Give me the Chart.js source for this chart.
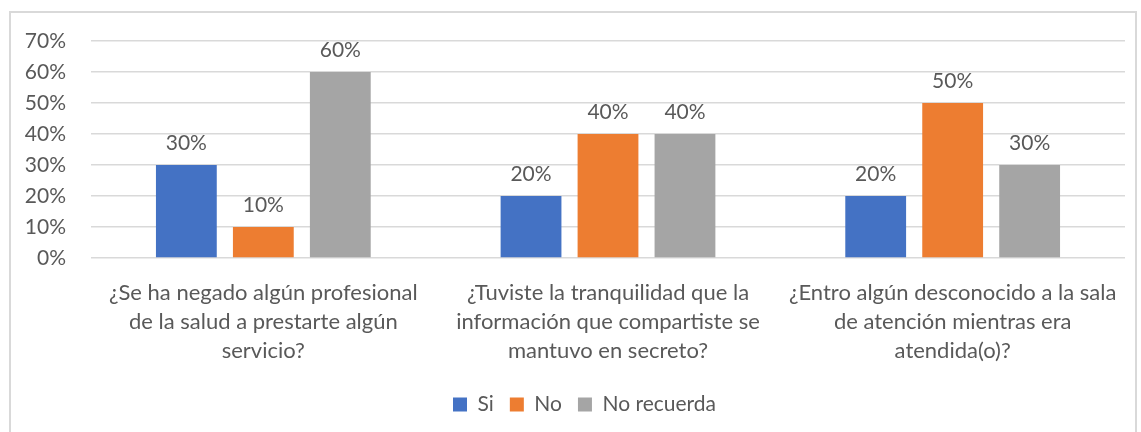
<!DOCTYPE html>
<html lang="es">
<head>
<meta charset="UTF-8">
<title>Encuesta</title>
<script src="https://cdn.jsdelivr.net/npm/chart.js"></script>
<style>
  html, body { margin: 0; padding: 0; background: #ffffff; }
  #wrap { position: relative; width: 1141px; height: 432px; overflow: hidden; }
  #frame { position: absolute; left: 9px; top: 11px; width: 1128px; height: 430px; border: 2px solid #d9d9d9; box-sizing: border-box; }
  canvas { position: absolute; left: 0; top: 0; }
</style>
</head>
<body>
<div id="wrap">
  <div id="frame"></div>
  <canvas id="chart" width="1141" height="432"></canvas>
</div>
<script>
// categories (questions)
const categories = [
  ['¿Se ha negado algún profesional', 'de la salud a prestarte algún', 'servicio?'],
  ['¿Tuviste la tranquilidad que la', 'información que compartiste se', 'mantuvo en secreto?'],
  ['¿Entro algún desconocido a la sala', 'de atención mientras era', 'atendida(o)?']
];

// series values (%)
const siValues = [30, 20, 20];
const noValues = [10, 40, 50];
const noRecuerdaValues = [60, 40, 30];

// y axis ticks
const yMax = 70;
const yStep = 10;

const textColor = '#595959';
const fontFamily = 'Lato, "Open Sans", sans-serif';

// draw the value labels above each bar
const barLabels = {
  id: 'barLabels',
  afterDatasetsDraw(chart) {
    const ctx = chart.ctx;
    ctx.save();
    ctx.font = '21px ' + fontFamily;
    ctx.fillStyle = textColor;
    ctx.textAlign = 'center';
    ctx.textBaseline = 'alphabetic';
    chart.data.datasets.forEach((ds, i) => {
      const meta = chart.getDatasetMeta(i);
      meta.data.forEach((bar, j) => {
        ctx.fillText(ds.data[j] + '%', bar.x, bar.y - 15);
      });
    });
    ctx.restore();
  }
};

// legend sits a bit right of the canvas centre in the original
const legendShift = {
  id: 'legendShift',
  afterLayout(chart) {
    chart.legend.left += 22;
    chart.legend.right += 22;
  }
};

const ctx = document.getElementById('chart').getContext('2d');
new Chart(ctx, {
  type: 'bar',
  data: {
    labels: categories,
    datasets: [
      { label: 'Si', data: siValues, backgroundColor: '#4472c4' },
      { label: 'No', data: noValues, backgroundColor: '#ed7d31' },
      { label: 'No recuerda', data: noRecuerdaValues, backgroundColor: '#a5a5a5' }
    ]
  },
  options: {
    responsive: false,
    animation: false,
    categoryPercentage: 0.67,
    barPercentage: 0.79,
    layout: { padding: { top: 41, right: 16, left: 0, bottom: 7 } },
    scales: {
      x: {
        grid: { display: false, drawTicks: false },
        border: { display: false },
        ticks: {
          color: textColor,
          font: { family: fontFamily, size: 22, lineHeight: 1.3 },
          padding: 21,
          maxRotation: 0,
          autoSkip: false
        },
        afterFit(scale) { scale.height = 120; }
      },
      y: {
        min: 0,
        max: yMax,
        grid: { color: '#d9d9d9', lineWidth: 1.5, drawTicks: false },
        border: { display: false },
        ticks: {
          stepSize: yStep,
          color: textColor,
          font: { family: fontFamily, size: 21 },
          padding: 25,
          callback: v => v + '%'
        },
        afterFit(scale) { scale.width = 91; }
      }
    },
    plugins: {
      legend: {
        position: 'bottom',
        labels: {
          color: textColor,
          font: { family: fontFamily, size: 21 },
          boxWidth: 14,
          boxHeight: 14,
          padding: 16
        }
      },
      tooltip: { enabled: false }
    }
  },
  plugins: [barLabels, legendShift]
});
</script>
</body>
</html>
